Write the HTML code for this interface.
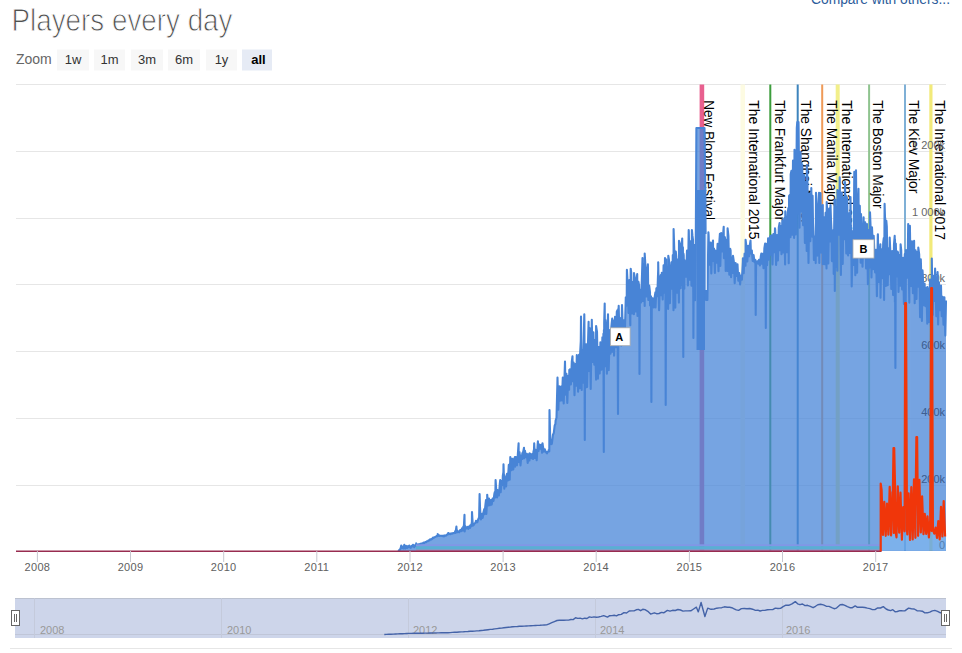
<!DOCTYPE html>
<html><head><meta charset="utf-8"><style>
html,body{margin:0;padding:0;background:#fff;}
body{width:962px;height:653px;overflow:hidden;position:relative;font-family:"Liberation Sans",sans-serif;}
svg{position:absolute;left:0;top:0;}
</style></head><body>
<svg width="962" height="653" viewBox="0 0 962 653" font-family="Liberation Sans, sans-serif">
<text x="11.5" y="30.8" font-size="31" fill="#505050" stroke="#fff" stroke-width="0.9" paint-order="fill" textLength="221" lengthAdjust="spacingAndGlyphs">Players every day</text>
<text x="811" y="4" font-size="14" fill="#2d5c9a" textLength="139" lengthAdjust="spacingAndGlyphs">Compare with others...</text>
<text x="16" y="63.8" font-size="14" fill="#666">Zoom</text>
<g font-size="13" fill="#333" text-anchor="middle">
<rect x="57" y="49.5" width="32" height="21" fill="#f7f7f7"/><text x="73" y="64">1w</text>
<rect x="94" y="49.5" width="31" height="21" fill="#f7f7f7"/><text x="109.5" y="64">1m</text>
<rect x="131" y="49.5" width="32" height="21" fill="#f7f7f7"/><text x="147" y="64">3m</text>
<rect x="168" y="49.5" width="32" height="21" fill="#f7f7f7"/><text x="184" y="64">6m</text>
<rect x="206" y="49.5" width="31" height="21" fill="#f7f7f7"/><text x="221.5" y="64">1y</text>
<rect x="242" y="49.5" width="30" height="21" fill="#e6ebf5"/><text x="258.5" y="64" font-weight="bold" fill="#000">all</text>
</g>
<g stroke="#e6e6e6" stroke-width="1"><line x1="16" y1="84.5" x2="946" y2="84.5"/><line x1="16" y1="151.5" x2="946" y2="151.5"/><line x1="16" y1="218.5" x2="946" y2="218.5"/><line x1="16" y1="284.5" x2="946" y2="284.5"/><line x1="16" y1="351.5" x2="946" y2="351.5"/><line x1="16" y1="418.5" x2="946" y2="418.5"/><line x1="16" y1="485.5" x2="946" y2="485.5"/></g>
<rect x="699.6" y="84.5" width="4.6" height="466.5" fill="#e8608f"/><rect x="740.5" y="84.5" width="4.5" height="466.5" fill="#fdfbe2"/><rect x="769.3" y="84.5" width="2.0" height="466.5" fill="#3c9d3c"/><rect x="796.7" y="84.5" width="2.0" height="466.5" fill="#3d84bd"/><rect x="821.2" y="84.5" width="2.0" height="466.5" fill="#ef9a57"/><rect x="835.7" y="84.5" width="4.0" height="466.5" fill="#f2ef8a"/><rect x="868.1" y="84.5" width="2.0" height="466.5" fill="#8fc48f"/><rect x="904.0" y="84.5" width="2.0" height="466.5" fill="#7fb0d6"/><rect x="929.3" y="84.5" width="3.2" height="466.5" fill="#f2ea7a"/>
<g font-size="14" fill="#000"><text transform="translate(704.4,100.3) rotate(90)" x="0" y="0" textLength="119.7" lengthAdjust="spacingAndGlyphs">New Bloom Festival</text><text transform="translate(748.8,100.3) rotate(90)" x="0" y="0" textLength="139.3" lengthAdjust="spacingAndGlyphs">The International 2015</text><text transform="translate(775.0,100.3) rotate(90)" x="0" y="0" textLength="120.7" lengthAdjust="spacingAndGlyphs">The Frankfurt Major</text><text transform="translate(801.3,100.3) rotate(90)" x="0" y="0" textLength="123.6" lengthAdjust="spacingAndGlyphs">The Shanghai Major</text><text transform="translate(826.5,100.3) rotate(90)" x="0" y="0" textLength="106.0" lengthAdjust="spacingAndGlyphs">The Manila Major</text><text transform="translate(842.0,100.3) rotate(90)" x="0" y="0" textLength="139.4" lengthAdjust="spacingAndGlyphs">The International 2016</text><text transform="translate(873.4,100.3) rotate(90)" x="0" y="0" textLength="108.2" lengthAdjust="spacingAndGlyphs">The Boston Major</text><text transform="translate(909.3,100.3) rotate(90)" x="0" y="0" textLength="93.1" lengthAdjust="spacingAndGlyphs">The Kiev Major</text><text transform="translate(934.5,100.3) rotate(90)" x="0" y="0" textLength="139.6" lengthAdjust="spacingAndGlyphs">The International 2017</text></g>
<g font-size="11" fill="#666"><text x="945" y="548.5" text-anchor="end">0</text><text x="945" y="482.5" text-anchor="end">200k</text><text x="945" y="416.0" text-anchor="end">400k</text><text x="945" y="349.0" text-anchor="end">600k</text><text x="945" y="282.0" text-anchor="end">800k</text><text x="945" y="216.0" text-anchor="end">1 000k</text><text x="945" y="149.0" text-anchor="end">1 200k</text></g>
<path d="M398.1,551.0 L399.0,550.3 L399.9,549.6 L400.8,547.8 L401.2,545.6 L401.7,548.2 L402.6,546.6 L403.5,548.5 L404.3,544.7 L404.4,545.6 L405.3,548.5 L406.2,545.9 L407.1,548.0 L408.0,546.2 L408.9,547.2 L409.3,545.6 L409.8,546.6 L410.7,547.8 L411.6,545.9 L412.5,546.5 L413.0,544.7 L413.4,545.7 L414.3,547.1 L415.2,545.0 L416.1,545.8 L416.2,543.4 L417.0,544.8 L417.9,544.6 L418.8,544.3 L419.7,544.2 L420.6,543.7 L421.5,543.5 L422.4,543.5 L423.3,543.0 L423.7,542.5 L424.2,543.1 L425.1,542.1 L426.0,542.2 L426.9,541.2 L427.8,541.3 L428.7,540.3 L429.6,540.4 L430.0,539.4 L430.5,539.4 L431.4,539.4 L432.3,538.6 L433.0,537.5 L433.2,538.2 L434.1,537.7 L435.0,537.0 L435.9,536.6 L436.8,535.9 L437.7,536.2 L437.7,534.1 L438.6,535.2 L439.5,535.9 L440.4,535.7 L441.3,535.8 L442.2,536.1 L443.1,535.5 L444.0,536.4 L444.7,535.9 L444.9,535.4 L445.8,535.8 L446.7,534.9 L447.6,534.3 L448.2,533.0 L448.5,534.3 L449.4,533.5 L450.3,534.1 L451.2,533.4 L452.1,533.7 L453.0,533.0 L453.9,533.1 L454.8,532.5 L455.2,531.2 L455.7,533.0 L455.8,531.0 L456.4,526.6 L456.6,529.3 L457.2,531.0 L457.5,532.3 L458.4,531.4 L459.3,532.2 L460.2,530.0 L461.1,531.2 L462.0,528.4 L462.9,530.6 L463.3,526.6 L463.8,527.6 L463.9,526.0 L464.5,514.9 L464.7,531.4 L465.2,526.0 L465.6,527.6 L466.5,528.5 L467.4,526.9 L468.3,528.8 L469.2,526.3 L470.1,527.8 L470.3,525.4 L471.0,526.3 L471.3,525.4 L471.9,521.8 L472.0,512.0 L472.8,525.8 L472.8,525.0 L473.7,525.1 L474.6,523.4 L475.5,522.9 L476.0,520.7 L476.4,521.4 L477.3,522.2 L478.2,519.4 L478.8,518.0 L479.1,518.3 L479.6,494.0 L480.0,507.0 L480.4,514.0 L480.9,519.4 L481.8,515.6 L482.0,513.8 L482.7,517.9 L483.6,511.7 L484.3,509.0 L484.5,514.1 L485.4,505.0 L486.0,500.0 L486.3,514.0 L487.2,499.7 L487.2,494.7 L488.1,505.5 L489.0,498.6 L489.9,505.3 L490.8,501.0 L491.0,500.0 L491.7,504.7 L492.6,498.6 L493.5,500.9 L494.4,493.7 L494.8,492.0 L495.3,497.5 L495.6,480.0 L496.2,489.4 L496.4,490.0 L497.1,497.5 L497.5,490.0 L498.0,491.2 L498.9,495.5 L499.8,484.0 L500.2,480.0 L500.7,492.2 L501.6,481.1 L502.5,485.1 L502.8,476.0 L503.4,472.2 L503.5,464.3 L504.3,488.7 L504.3,475.0 L505.2,479.7 L505.7,477.2 L506.1,486.5 L507.0,473.7 L507.9,480.4 L508.8,464.9 L509.7,479.7 L510.3,457.0 L510.6,458.2 L511.5,470.2 L512.4,458.9 L513.3,469.5 L514.2,459.3 L514.9,457.0 L515.1,466.6 L516.0,457.0 L516.9,465.3 L517.8,456.2 L517.8,455.0 L518.6,443.2 L518.7,462.0 L519.5,452.0 L519.6,452.9 L520.5,465.4 L521.4,455.3 L522.3,458.9 L522.3,453.3 L523.2,451.9 L524.0,447.8 L524.1,458.3 L525.0,450.8 L525.9,457.3 L526.8,453.8 L527.7,463.0 L528.6,454.2 L529.5,460.4 L529.6,453.3 L530.4,454.0 L531.3,458.3 L532.2,454.0 L533.1,459.0 L533.4,452.0 L534.0,449.6 L534.2,443.2 L534.9,458.0 L535.0,452.0 L535.8,449.9 L536.7,460.3 L537.6,445.3 L537.9,441.4 L538.5,451.0 L539.4,444.6 L540.3,448.8 L541.2,444.8 L542.1,452.8 L542.5,443.2 L543.0,446.8 L543.9,451.6 L544.8,449.3 L545.7,451.6 L546.6,453.0 L547.1,453.3 L547.5,452.0 L548.4,451.6 L548.7,450.0 L549.3,451.3 L549.5,410.0 L550.2,438.2 L550.3,440.0 L551.1,444.1 L551.7,444.0 L552.0,442.7 L552.9,435.0 L553.8,432.9 L554.7,425.4 L555.4,424.0 L555.6,420.6 L556.5,417.8 L557.4,382.7 L557.5,377.6 L558.3,409.6 L559.2,386.3 L560.1,400.7 L560.7,387.3 L561.0,386.5 L561.9,400.5 L562.8,377.6 L563.7,403.5 L564.6,374.4 L565.0,361.5 L565.5,394.6 L566.4,373.7 L567.3,402.9 L568.2,375.9 L569.1,389.8 L569.3,370.0 L570.0,369.3 L570.9,384.4 L571.8,361.7 L572.5,356.2 L572.7,381.2 L573.6,362.6 L574.5,395.1 L575.4,364.1 L576.3,385.7 L576.8,355.0 L577.2,361.6 L578.1,391.7 L579.0,354.7 L579.9,388.1 L580.2,352.0 L580.8,341.1 L581.0,316.5 L581.7,389.9 L581.8,350.0 L582.6,358.4 L583.5,382.7 L583.5,350.0 L584.3,314.3 L584.4,322.0 L584.4,320.0 L584.8,440.0 L585.1,344.0 L585.2,346.0 L585.3,388.2 L586.2,348.8 L586.5,344.4 L587.1,386.9 L588.0,343.2 L588.6,321.8 L588.9,371.0 L589.8,328.3 L590.7,388.9 L591.6,332.2 L591.8,319.7 L592.5,362.0 L593.4,332.3 L594.3,364.6 L595.0,340.0 L595.2,348.0 L596.1,379.6 L596.1,326.0 L597.0,332.0 L597.9,378.6 L598.8,347.1 L599.7,373.5 L600.4,342.2 L600.6,345.3 L601.5,369.7 L602.4,337.3 L603.3,355.2 L603.4,333.7 L603.8,452.0 L603.9,330.0 L604.2,333.7 L604.2,322.1 L604.7,303.6 L605.1,366.3 L605.5,320.0 L606.0,326.5 L606.9,373.7 L607.8,321.5 L608.0,314.3 L608.7,370.1 L609.6,336.1 L610.0,330.0 L610.5,353.8 L611.4,326.3 L612.2,318.6 L612.3,351.8 L613.2,320.3 L614.1,355.6 L615.0,316.9 L615.9,347.1 L616.8,311.8 L617.6,310.0 L617.7,355.0 L618.0,414.0 L618.4,308.4 L618.6,310.7 L618.7,305.8 L619.5,341.4 L620.0,318.0 L620.4,320.7 L621.3,345.6 L622.0,305.0 L622.2,310.8 L623.1,341.0 L624.0,321.3 L624.3,320.0 L624.9,330.9 L625.8,297.3 L626.7,305.6 L626.9,269.7 L627.6,283.0 L628.5,313.0 L628.6,285.8 L629.4,280.1 L630.3,325.3 L630.7,268.7 L631.2,272.5 L632.1,313.5 L633.0,281.7 L633.9,314.3 L634.0,273.0 L634.8,277.9 L635.7,311.5 L636.6,280.7 L637.2,274.0 L637.5,316.0 L638.4,281.7 L639.1,285.5 L639.3,310.2 L639.5,374.0 L639.9,289.5 L640.2,291.3 L640.4,290.0 L641.1,302.4 L642.0,275.2 L642.5,258.0 L642.9,300.9 L643.8,263.7 L644.7,305.9 L644.7,253.6 L645.6,268.8 L646.5,296.5 L647.4,270.2 L647.9,264.4 L648.3,300.0 L649.2,285.6 L650.0,292.3 L650.1,305.5 L651.0,296.4 L651.0,296.2 L651.4,402.0 L651.8,297.8 L651.9,305.0 L652.8,299.6 L653.3,298.7 L653.7,307.4 L654.6,297.7 L655.4,292.3 L655.5,307.5 L656.4,288.4 L657.3,296.3 L658.2,269.3 L658.2,262.2 L659.1,310.2 L660.0,279.5 L660.8,275.0 L660.9,295.2 L661.8,272.9 L662.7,299.4 L663.6,265.3 L664.5,292.7 L665.0,258.0 L665.3,259.8 L665.4,259.4 L665.7,405.0 L666.1,259.3 L666.3,303.3 L667.2,267.2 L668.1,308.9 L668.3,255.8 L669.0,259.9 L669.9,303.3 L670.8,269.0 L671.5,262.2 L671.7,288.8 L672.6,267.7 L672.8,255.0 L673.5,310.3 L673.6,229.0 L674.4,253.8 L674.4,250.0 L675.3,307.6 L675.8,251.5 L676.2,256.3 L677.1,292.8 L678.0,259.4 L678.9,302.6 L679.0,240.8 L679.8,243.5 L680.7,288.3 L681.6,247.8 L682.2,238.6 L682.5,285.1 L682.9,247.4 L683.3,357.0 L683.4,253.5 L683.7,255.2 L684.3,288.7 L684.4,260.0 L685.2,263.4 L686.1,276.8 L687.0,250.6 L687.9,285.4 L688.7,230.0 L688.8,231.1 L689.7,279.7 L690.6,241.3 L691.5,285.8 L691.9,230.0 L692.4,235.4 L693.0,239.9 L693.3,301.6 L693.4,338.0 L693.8,245.6 L694.0,245.0 L694.2,255.4 L695.1,300.3 L695.8,240.0 L696.4,128.0 L704.5,128.0 L705.4,200.0 L706.0,300.0 L707.4,300.0 L708.4,232.2 L708.6,235.1 L709.5,264.6 L710.4,242.6 L710.7,242.9 L711.3,273.5 L712.2,244.4 L713.0,240.6 L713.1,260.9 L714.0,248.6 L714.9,273.0 L715.3,250.5 L715.8,254.1 L716.7,262.8 L717.6,243.9 L718.5,271.1 L719.4,241.1 L719.9,233.7 L720.3,265.9 L721.2,233.0 L722.1,251.4 L723.0,235.5 L723.7,226.8 L723.9,258.1 L724.8,237.1 L725.3,239.8 L725.7,270.9 L726.6,239.9 L727.5,271.0 L727.6,228.3 L728.4,235.8 L729.3,274.7 L730.2,248.8 L730.6,250.5 L731.1,277.2 L732.0,257.2 L732.9,273.0 L733.0,255.9 L733.8,261.4 L734.7,283.1 L735.6,263.0 L736.5,276.0 L737.4,267.7 L737.5,264.3 L738.3,280.8 L739.2,273.1 L740.1,284.5 L740.6,278.0 L741.0,275.5 L741.9,279.6 L742.8,261.8 L742.9,258.2 L743.7,273.1 L744.6,253.5 L745.5,265.8 L745.6,239.8 L746.4,246.5 L747.3,261.5 L748.2,248.7 L748.2,245.9 L749.1,256.3 L750.0,243.9 L750.5,240.6 L750.9,253.4 L751.8,250.4 L752.7,261.0 L753.6,256.3 L753.6,255.1 L754.5,262.1 L755.3,259.9 L755.4,260.2 L755.7,315.0 L756.1,261.2 L756.3,262.3 L757.2,262.5 L757.4,261.3 L758.1,263.7 L759.0,259.8 L759.9,265.4 L760.8,256.5 L761.3,253.6 L761.7,263.7 L762.6,253.7 L763.5,268.3 L764.4,248.1 L765.1,243.6 L765.3,267.4 L765.4,245.1 L765.8,328.0 L766.2,247.0 L766.2,243.7 L767.1,265.1 L768.0,242.2 L768.1,238.3 L768.9,259.6 L769.8,237.8 L770.4,236.0 L770.7,254.8 L771.6,235.4 L772.5,264.5 L773.4,234.0 L774.3,252.3 L775.0,228.3 L775.2,229.6 L776.1,264.9 L777.0,235.1 L777.9,260.5 L778.8,227.5 L779.6,223.0 L779.7,250.2 L780.6,225.9 L781.5,254.1 L782.3,220.6 L782.4,222.7 L783.3,252.4 L784.2,218.6 L785.1,264.4 L785.3,211.4 L786.0,223.5 L786.9,252.2 L787.8,212.5 L788.4,208.0 L788.7,263.2 L789.1,195.8 L789.6,195.2 L790.5,237.3 L790.7,174.3 L791.4,170.9 L792.3,234.7 L793.0,160.5 L793.2,171.4 L794.1,238.0 L794.5,149.8 L795.0,151.2 L795.9,234.4 L796.8,127.9 L797.3,122.0 L797.7,213.8 L798.5,122.0 L798.6,127.2 L799.5,227.8 L800.4,151.9 L800.6,152.9 L801.3,211.6 L802.2,164.5 L803.1,225.2 L804.0,174.8 L804.9,242.9 L805.8,181.9 L806.7,251.0 L806.8,165.1 L807.5,183.5 L807.6,198.1 L808.5,262.9 L809.4,193.9 L810.3,241.3 L811.2,207.0 L811.3,188.1 L812.1,236.6 L812.6,195.8 L813.0,223.3 L813.5,236.0 L813.9,259.9 L814.8,237.1 L815.5,236.0 L815.7,263.1 L816.0,192.7 L816.6,209.1 L817.5,255.6 L818.4,206.4 L819.0,192.7 L819.3,263.0 L819.8,209.5 L820.2,203.1 L820.5,193.0 L821.1,252.6 L822.0,209.5 L822.8,205.0 L822.9,264.3 L823.8,217.0 L824.7,264.3 L825.6,212.7 L826.5,268.5 L826.7,202.0 L827.4,214.3 L828.3,263.4 L829.2,208.5 L830.1,241.5 L830.5,205.0 L831.0,220.1 L831.5,230.0 L831.9,261.1 L832.8,231.9 L833.5,230.0 L833.7,274.0 L834.4,205.0 L834.5,200.0 L834.6,210.9 L834.8,291.0 L835.2,199.6 L835.5,267.1 L836.4,207.2 L837.3,270.7 L837.4,190.0 L838.2,197.7 L839.1,234.6 L839.7,177.4 L840.0,198.6 L840.9,275.0 L841.8,192.6 L842.7,263.9 L843.6,197.9 L844.5,239.2 L845.0,182.0 L845.4,203.8 L846.3,253.4 L846.7,197.0 L847.2,199.4 L848.1,255.4 L849.0,213.2 L849.9,253.0 L850.5,197.0 L850.8,225.4 L851.2,231.0 L851.7,286.5 L852.6,238.2 L853.0,231.0 L853.5,265.0 L854.3,171.9 L854.4,185.9 L855.3,275.3 L856.0,170.2 L856.2,194.0 L857.1,272.7 L858.0,201.8 L858.5,188.7 L858.9,247.6 L859.8,205.7 L860.7,262.8 L861.0,214.0 L861.6,228.9 L862.5,266.8 L863.4,227.8 L863.6,217.3 L864.3,257.1 L865.2,222.3 L866.1,268.4 L867.0,235.7 L867.0,224.0 L867.9,284.3 L868.8,230.0 L869.7,267.6 L870.0,212.3 L870.6,227.1 L871.5,277.4 L872.0,227.4 L872.4,237.4 L873.3,269.1 L873.7,235.9 L874.2,248.9 L875.1,272.5 L876.0,249.7 L876.9,296.2 L877.8,235.3 L877.9,234.2 L878.7,282.1 L879.6,252.6 L880.4,244.3 L880.5,297.8 L881.4,249.0 L882.3,278.2 L883.2,242.8 L883.8,238.0 L884.1,300.0 L884.6,203.9 L885.0,217.1 L885.4,220.0 L885.9,285.9 L886.3,220.7 L886.8,226.6 L887.7,285.3 L888.6,248.3 L889.5,274.2 L889.7,237.5 L890.4,253.6 L891.3,289.0 L892.2,262.2 L892.2,251.0 L893.1,295.1 L894.0,244.3 L894.7,235.9 L894.9,302.0 L895.0,239.4 L895.4,368.0 L895.8,249.4 L895.8,243.5 L896.7,276.5 L897.6,251.5 L898.0,252.7 L898.5,291.9 L899.4,255.0 L900.3,285.7 L900.6,244.3 L901.2,250.2 L902.1,289.4 L903.0,261.6 L903.1,257.7 L903.9,303.9 L904.8,254.0 L905.7,302.2 L906.0,250.0 L906.6,256.7 L907.5,277.6 L908.2,224.0 L908.4,244.1 L909.3,302.6 L909.9,225.8 L910.2,246.0 L911.1,286.1 L912.0,241.3 L912.9,293.3 L913.8,258.5 L914.1,240.9 L914.7,303.3 L915.6,250.4 L916.5,299.0 L917.4,251.7 L918.3,286.7 L918.3,247.6 L919.2,254.3 L920.1,317.2 L920.8,259.4 L921.0,265.5 L921.9,321.0 L922.5,270.3 L922.8,275.0 L923.7,305.3 L924.6,283.5 L925.5,306.2 L926.4,287.7 L927.3,323.6 L927.5,287.1 L928.2,291.9 L929.1,321.9 L930.0,279.5 L930.9,326.2 L931.8,274.6 L931.8,258.5 L932.7,315.0 L933.6,275.8 L934.5,301.0 L935.1,268.6 L935.4,280.4 L936.3,316.3 L937.2,283.1 L937.6,272.0 L938.1,324.5 L939.0,282.2 L939.9,310.3 L940.8,296.6 L941.0,285.5 L941.7,316.2 L942.6,296.9 L943.5,324.6 L944.4,300.9 L944.4,297.2 L945.3,335.6 L946.0,300.6 L946,551 L398,551 Z" fill="rgba(72,134,216,0.75)"/>
<rect x="696.5" y="190" width="8.5" height="160" fill="#4884d6"/>
<defs><clipPath id="ac"><path d="M398.1,551.0 L399.0,550.3 L399.9,549.6 L400.8,547.8 L401.2,545.6 L401.7,548.2 L402.6,546.6 L403.5,548.5 L404.3,544.7 L404.4,545.6 L405.3,548.5 L406.2,545.9 L407.1,548.0 L408.0,546.2 L408.9,547.2 L409.3,545.6 L409.8,546.6 L410.7,547.8 L411.6,545.9 L412.5,546.5 L413.0,544.7 L413.4,545.7 L414.3,547.1 L415.2,545.0 L416.1,545.8 L416.2,543.4 L417.0,544.8 L417.9,544.6 L418.8,544.3 L419.7,544.2 L420.6,543.7 L421.5,543.5 L422.4,543.5 L423.3,543.0 L423.7,542.5 L424.2,543.1 L425.1,542.1 L426.0,542.2 L426.9,541.2 L427.8,541.3 L428.7,540.3 L429.6,540.4 L430.0,539.4 L430.5,539.4 L431.4,539.4 L432.3,538.6 L433.0,537.5 L433.2,538.2 L434.1,537.7 L435.0,537.0 L435.9,536.6 L436.8,535.9 L437.7,536.2 L437.7,534.1 L438.6,535.2 L439.5,535.9 L440.4,535.7 L441.3,535.8 L442.2,536.1 L443.1,535.5 L444.0,536.4 L444.7,535.9 L444.9,535.4 L445.8,535.8 L446.7,534.9 L447.6,534.3 L448.2,533.0 L448.5,534.3 L449.4,533.5 L450.3,534.1 L451.2,533.4 L452.1,533.7 L453.0,533.0 L453.9,533.1 L454.8,532.5 L455.2,531.2 L455.7,533.0 L455.8,531.0 L456.4,526.6 L456.6,529.3 L457.2,531.0 L457.5,532.3 L458.4,531.4 L459.3,532.2 L460.2,530.0 L461.1,531.2 L462.0,528.4 L462.9,530.6 L463.3,526.6 L463.8,527.6 L463.9,526.0 L464.5,514.9 L464.7,531.4 L465.2,526.0 L465.6,527.6 L466.5,528.5 L467.4,526.9 L468.3,528.8 L469.2,526.3 L470.1,527.8 L470.3,525.4 L471.0,526.3 L471.3,525.4 L471.9,521.8 L472.0,512.0 L472.8,525.8 L472.8,525.0 L473.7,525.1 L474.6,523.4 L475.5,522.9 L476.0,520.7 L476.4,521.4 L477.3,522.2 L478.2,519.4 L478.8,518.0 L479.1,518.3 L479.6,494.0 L480.0,507.0 L480.4,514.0 L480.9,519.4 L481.8,515.6 L482.0,513.8 L482.7,517.9 L483.6,511.7 L484.3,509.0 L484.5,514.1 L485.4,505.0 L486.0,500.0 L486.3,514.0 L487.2,499.7 L487.2,494.7 L488.1,505.5 L489.0,498.6 L489.9,505.3 L490.8,501.0 L491.0,500.0 L491.7,504.7 L492.6,498.6 L493.5,500.9 L494.4,493.7 L494.8,492.0 L495.3,497.5 L495.6,480.0 L496.2,489.4 L496.4,490.0 L497.1,497.5 L497.5,490.0 L498.0,491.2 L498.9,495.5 L499.8,484.0 L500.2,480.0 L500.7,492.2 L501.6,481.1 L502.5,485.1 L502.8,476.0 L503.4,472.2 L503.5,464.3 L504.3,488.7 L504.3,475.0 L505.2,479.7 L505.7,477.2 L506.1,486.5 L507.0,473.7 L507.9,480.4 L508.8,464.9 L509.7,479.7 L510.3,457.0 L510.6,458.2 L511.5,470.2 L512.4,458.9 L513.3,469.5 L514.2,459.3 L514.9,457.0 L515.1,466.6 L516.0,457.0 L516.9,465.3 L517.8,456.2 L517.8,455.0 L518.6,443.2 L518.7,462.0 L519.5,452.0 L519.6,452.9 L520.5,465.4 L521.4,455.3 L522.3,458.9 L522.3,453.3 L523.2,451.9 L524.0,447.8 L524.1,458.3 L525.0,450.8 L525.9,457.3 L526.8,453.8 L527.7,463.0 L528.6,454.2 L529.5,460.4 L529.6,453.3 L530.4,454.0 L531.3,458.3 L532.2,454.0 L533.1,459.0 L533.4,452.0 L534.0,449.6 L534.2,443.2 L534.9,458.0 L535.0,452.0 L535.8,449.9 L536.7,460.3 L537.6,445.3 L537.9,441.4 L538.5,451.0 L539.4,444.6 L540.3,448.8 L541.2,444.8 L542.1,452.8 L542.5,443.2 L543.0,446.8 L543.9,451.6 L544.8,449.3 L545.7,451.6 L546.6,453.0 L547.1,453.3 L547.5,452.0 L548.4,451.6 L548.7,450.0 L549.3,451.3 L549.5,410.0 L550.2,438.2 L550.3,440.0 L551.1,444.1 L551.7,444.0 L552.0,442.7 L552.9,435.0 L553.8,432.9 L554.7,425.4 L555.4,424.0 L555.6,420.6 L556.5,417.8 L557.4,382.7 L557.5,377.6 L558.3,409.6 L559.2,386.3 L560.1,400.7 L560.7,387.3 L561.0,386.5 L561.9,400.5 L562.8,377.6 L563.7,403.5 L564.6,374.4 L565.0,361.5 L565.5,394.6 L566.4,373.7 L567.3,402.9 L568.2,375.9 L569.1,389.8 L569.3,370.0 L570.0,369.3 L570.9,384.4 L571.8,361.7 L572.5,356.2 L572.7,381.2 L573.6,362.6 L574.5,395.1 L575.4,364.1 L576.3,385.7 L576.8,355.0 L577.2,361.6 L578.1,391.7 L579.0,354.7 L579.9,388.1 L580.2,352.0 L580.8,341.1 L581.0,316.5 L581.7,389.9 L581.8,350.0 L582.6,358.4 L583.5,382.7 L583.5,350.0 L584.3,314.3 L584.4,322.0 L584.4,320.0 L584.8,440.0 L585.1,344.0 L585.2,346.0 L585.3,388.2 L586.2,348.8 L586.5,344.4 L587.1,386.9 L588.0,343.2 L588.6,321.8 L588.9,371.0 L589.8,328.3 L590.7,388.9 L591.6,332.2 L591.8,319.7 L592.5,362.0 L593.4,332.3 L594.3,364.6 L595.0,340.0 L595.2,348.0 L596.1,379.6 L596.1,326.0 L597.0,332.0 L597.9,378.6 L598.8,347.1 L599.7,373.5 L600.4,342.2 L600.6,345.3 L601.5,369.7 L602.4,337.3 L603.3,355.2 L603.4,333.7 L603.8,452.0 L603.9,330.0 L604.2,333.7 L604.2,322.1 L604.7,303.6 L605.1,366.3 L605.5,320.0 L606.0,326.5 L606.9,373.7 L607.8,321.5 L608.0,314.3 L608.7,370.1 L609.6,336.1 L610.0,330.0 L610.5,353.8 L611.4,326.3 L612.2,318.6 L612.3,351.8 L613.2,320.3 L614.1,355.6 L615.0,316.9 L615.9,347.1 L616.8,311.8 L617.6,310.0 L617.7,355.0 L618.0,414.0 L618.4,308.4 L618.6,310.7 L618.7,305.8 L619.5,341.4 L620.0,318.0 L620.4,320.7 L621.3,345.6 L622.0,305.0 L622.2,310.8 L623.1,341.0 L624.0,321.3 L624.3,320.0 L624.9,330.9 L625.8,297.3 L626.7,305.6 L626.9,269.7 L627.6,283.0 L628.5,313.0 L628.6,285.8 L629.4,280.1 L630.3,325.3 L630.7,268.7 L631.2,272.5 L632.1,313.5 L633.0,281.7 L633.9,314.3 L634.0,273.0 L634.8,277.9 L635.7,311.5 L636.6,280.7 L637.2,274.0 L637.5,316.0 L638.4,281.7 L639.1,285.5 L639.3,310.2 L639.5,374.0 L639.9,289.5 L640.2,291.3 L640.4,290.0 L641.1,302.4 L642.0,275.2 L642.5,258.0 L642.9,300.9 L643.8,263.7 L644.7,305.9 L644.7,253.6 L645.6,268.8 L646.5,296.5 L647.4,270.2 L647.9,264.4 L648.3,300.0 L649.2,285.6 L650.0,292.3 L650.1,305.5 L651.0,296.4 L651.0,296.2 L651.4,402.0 L651.8,297.8 L651.9,305.0 L652.8,299.6 L653.3,298.7 L653.7,307.4 L654.6,297.7 L655.4,292.3 L655.5,307.5 L656.4,288.4 L657.3,296.3 L658.2,269.3 L658.2,262.2 L659.1,310.2 L660.0,279.5 L660.8,275.0 L660.9,295.2 L661.8,272.9 L662.7,299.4 L663.6,265.3 L664.5,292.7 L665.0,258.0 L665.3,259.8 L665.4,259.4 L665.7,405.0 L666.1,259.3 L666.3,303.3 L667.2,267.2 L668.1,308.9 L668.3,255.8 L669.0,259.9 L669.9,303.3 L670.8,269.0 L671.5,262.2 L671.7,288.8 L672.6,267.7 L672.8,255.0 L673.5,310.3 L673.6,229.0 L674.4,253.8 L674.4,250.0 L675.3,307.6 L675.8,251.5 L676.2,256.3 L677.1,292.8 L678.0,259.4 L678.9,302.6 L679.0,240.8 L679.8,243.5 L680.7,288.3 L681.6,247.8 L682.2,238.6 L682.5,285.1 L682.9,247.4 L683.3,357.0 L683.4,253.5 L683.7,255.2 L684.3,288.7 L684.4,260.0 L685.2,263.4 L686.1,276.8 L687.0,250.6 L687.9,285.4 L688.7,230.0 L688.8,231.1 L689.7,279.7 L690.6,241.3 L691.5,285.8 L691.9,230.0 L692.4,235.4 L693.0,239.9 L693.3,301.6 L693.4,338.0 L693.8,245.6 L694.0,245.0 L694.2,255.4 L695.1,300.3 L695.8,240.0 L696.4,128.0 L704.5,128.0 L705.4,200.0 L706.0,300.0 L707.4,300.0 L708.4,232.2 L708.6,235.1 L709.5,264.6 L710.4,242.6 L710.7,242.9 L711.3,273.5 L712.2,244.4 L713.0,240.6 L713.1,260.9 L714.0,248.6 L714.9,273.0 L715.3,250.5 L715.8,254.1 L716.7,262.8 L717.6,243.9 L718.5,271.1 L719.4,241.1 L719.9,233.7 L720.3,265.9 L721.2,233.0 L722.1,251.4 L723.0,235.5 L723.7,226.8 L723.9,258.1 L724.8,237.1 L725.3,239.8 L725.7,270.9 L726.6,239.9 L727.5,271.0 L727.6,228.3 L728.4,235.8 L729.3,274.7 L730.2,248.8 L730.6,250.5 L731.1,277.2 L732.0,257.2 L732.9,273.0 L733.0,255.9 L733.8,261.4 L734.7,283.1 L735.6,263.0 L736.5,276.0 L737.4,267.7 L737.5,264.3 L738.3,280.8 L739.2,273.1 L740.1,284.5 L740.6,278.0 L741.0,275.5 L741.9,279.6 L742.8,261.8 L742.9,258.2 L743.7,273.1 L744.6,253.5 L745.5,265.8 L745.6,239.8 L746.4,246.5 L747.3,261.5 L748.2,248.7 L748.2,245.9 L749.1,256.3 L750.0,243.9 L750.5,240.6 L750.9,253.4 L751.8,250.4 L752.7,261.0 L753.6,256.3 L753.6,255.1 L754.5,262.1 L755.3,259.9 L755.4,260.2 L755.7,315.0 L756.1,261.2 L756.3,262.3 L757.2,262.5 L757.4,261.3 L758.1,263.7 L759.0,259.8 L759.9,265.4 L760.8,256.5 L761.3,253.6 L761.7,263.7 L762.6,253.7 L763.5,268.3 L764.4,248.1 L765.1,243.6 L765.3,267.4 L765.4,245.1 L765.8,328.0 L766.2,247.0 L766.2,243.7 L767.1,265.1 L768.0,242.2 L768.1,238.3 L768.9,259.6 L769.8,237.8 L770.4,236.0 L770.7,254.8 L771.6,235.4 L772.5,264.5 L773.4,234.0 L774.3,252.3 L775.0,228.3 L775.2,229.6 L776.1,264.9 L777.0,235.1 L777.9,260.5 L778.8,227.5 L779.6,223.0 L779.7,250.2 L780.6,225.9 L781.5,254.1 L782.3,220.6 L782.4,222.7 L783.3,252.4 L784.2,218.6 L785.1,264.4 L785.3,211.4 L786.0,223.5 L786.9,252.2 L787.8,212.5 L788.4,208.0 L788.7,263.2 L789.1,195.8 L789.6,195.2 L790.5,237.3 L790.7,174.3 L791.4,170.9 L792.3,234.7 L793.0,160.5 L793.2,171.4 L794.1,238.0 L794.5,149.8 L795.0,151.2 L795.9,234.4 L796.8,127.9 L797.3,122.0 L797.7,213.8 L798.5,122.0 L798.6,127.2 L799.5,227.8 L800.4,151.9 L800.6,152.9 L801.3,211.6 L802.2,164.5 L803.1,225.2 L804.0,174.8 L804.9,242.9 L805.8,181.9 L806.7,251.0 L806.8,165.1 L807.5,183.5 L807.6,198.1 L808.5,262.9 L809.4,193.9 L810.3,241.3 L811.2,207.0 L811.3,188.1 L812.1,236.6 L812.6,195.8 L813.0,223.3 L813.5,236.0 L813.9,259.9 L814.8,237.1 L815.5,236.0 L815.7,263.1 L816.0,192.7 L816.6,209.1 L817.5,255.6 L818.4,206.4 L819.0,192.7 L819.3,263.0 L819.8,209.5 L820.2,203.1 L820.5,193.0 L821.1,252.6 L822.0,209.5 L822.8,205.0 L822.9,264.3 L823.8,217.0 L824.7,264.3 L825.6,212.7 L826.5,268.5 L826.7,202.0 L827.4,214.3 L828.3,263.4 L829.2,208.5 L830.1,241.5 L830.5,205.0 L831.0,220.1 L831.5,230.0 L831.9,261.1 L832.8,231.9 L833.5,230.0 L833.7,274.0 L834.4,205.0 L834.5,200.0 L834.6,210.9 L834.8,291.0 L835.2,199.6 L835.5,267.1 L836.4,207.2 L837.3,270.7 L837.4,190.0 L838.2,197.7 L839.1,234.6 L839.7,177.4 L840.0,198.6 L840.9,275.0 L841.8,192.6 L842.7,263.9 L843.6,197.9 L844.5,239.2 L845.0,182.0 L845.4,203.8 L846.3,253.4 L846.7,197.0 L847.2,199.4 L848.1,255.4 L849.0,213.2 L849.9,253.0 L850.5,197.0 L850.8,225.4 L851.2,231.0 L851.7,286.5 L852.6,238.2 L853.0,231.0 L853.5,265.0 L854.3,171.9 L854.4,185.9 L855.3,275.3 L856.0,170.2 L856.2,194.0 L857.1,272.7 L858.0,201.8 L858.5,188.7 L858.9,247.6 L859.8,205.7 L860.7,262.8 L861.0,214.0 L861.6,228.9 L862.5,266.8 L863.4,227.8 L863.6,217.3 L864.3,257.1 L865.2,222.3 L866.1,268.4 L867.0,235.7 L867.0,224.0 L867.9,284.3 L868.8,230.0 L869.7,267.6 L870.0,212.3 L870.6,227.1 L871.5,277.4 L872.0,227.4 L872.4,237.4 L873.3,269.1 L873.7,235.9 L874.2,248.9 L875.1,272.5 L876.0,249.7 L876.9,296.2 L877.8,235.3 L877.9,234.2 L878.7,282.1 L879.6,252.6 L880.4,244.3 L880.5,297.8 L881.4,249.0 L882.3,278.2 L883.2,242.8 L883.8,238.0 L884.1,300.0 L884.6,203.9 L885.0,217.1 L885.4,220.0 L885.9,285.9 L886.3,220.7 L886.8,226.6 L887.7,285.3 L888.6,248.3 L889.5,274.2 L889.7,237.5 L890.4,253.6 L891.3,289.0 L892.2,262.2 L892.2,251.0 L893.1,295.1 L894.0,244.3 L894.7,235.9 L894.9,302.0 L895.0,239.4 L895.4,368.0 L895.8,249.4 L895.8,243.5 L896.7,276.5 L897.6,251.5 L898.0,252.7 L898.5,291.9 L899.4,255.0 L900.3,285.7 L900.6,244.3 L901.2,250.2 L902.1,289.4 L903.0,261.6 L903.1,257.7 L903.9,303.9 L904.8,254.0 L905.7,302.2 L906.0,250.0 L906.6,256.7 L907.5,277.6 L908.2,224.0 L908.4,244.1 L909.3,302.6 L909.9,225.8 L910.2,246.0 L911.1,286.1 L912.0,241.3 L912.9,293.3 L913.8,258.5 L914.1,240.9 L914.7,303.3 L915.6,250.4 L916.5,299.0 L917.4,251.7 L918.3,286.7 L918.3,247.6 L919.2,254.3 L920.1,317.2 L920.8,259.4 L921.0,265.5 L921.9,321.0 L922.5,270.3 L922.8,275.0 L923.7,305.3 L924.6,283.5 L925.5,306.2 L926.4,287.7 L927.3,323.6 L927.5,287.1 L928.2,291.9 L929.1,321.9 L930.0,279.5 L930.9,326.2 L931.8,274.6 L931.8,258.5 L932.7,315.0 L933.6,275.8 L934.5,301.0 L935.1,268.6 L935.4,280.4 L936.3,316.3 L937.2,283.1 L937.6,272.0 L938.1,324.5 L939.0,282.2 L939.9,310.3 L940.8,296.6 L941.0,285.5 L941.7,316.2 L942.6,296.9 L943.5,324.6 L944.4,300.9 L944.4,297.2 L945.3,335.6 L946.0,300.6 L946,551 L398,551 Z"/></clipPath></defs>
<g font-size="11" fill="#283250" opacity="0.4" clip-path="url(#ac)"><text x="945" y="548.5" text-anchor="end">0</text><text x="945" y="482.5" text-anchor="end">200k</text><text x="945" y="416.0" text-anchor="end">400k</text><text x="945" y="349.0" text-anchor="end">600k</text><text x="945" y="282.0" text-anchor="end">800k</text><text x="945" y="216.0" text-anchor="end">1 000k</text><text x="945" y="149.0" text-anchor="end">1 200k</text></g>
<path d="M398.1,551.0 L399.0,550.3 L399.9,549.6 L400.8,547.8 L401.2,545.6 L401.7,548.2 L402.6,546.6 L403.5,548.5 L404.3,544.7 L404.4,545.6 L405.3,548.5 L406.2,545.9 L407.1,548.0 L408.0,546.2 L408.9,547.2 L409.3,545.6 L409.8,546.6 L410.7,547.8 L411.6,545.9 L412.5,546.5 L413.0,544.7 L413.4,545.7 L414.3,547.1 L415.2,545.0 L416.1,545.8 L416.2,543.4 L417.0,544.8 L417.9,544.6 L418.8,544.3 L419.7,544.2 L420.6,543.7 L421.5,543.5 L422.4,543.5 L423.3,543.0 L423.7,542.5 L424.2,543.1 L425.1,542.1 L426.0,542.2 L426.9,541.2 L427.8,541.3 L428.7,540.3 L429.6,540.4 L430.0,539.4 L430.5,539.4 L431.4,539.4 L432.3,538.6 L433.0,537.5 L433.2,538.2 L434.1,537.7 L435.0,537.0 L435.9,536.6 L436.8,535.9 L437.7,536.2 L437.7,534.1 L438.6,535.2 L439.5,535.9 L440.4,535.7 L441.3,535.8 L442.2,536.1 L443.1,535.5 L444.0,536.4 L444.7,535.9 L444.9,535.4 L445.8,535.8 L446.7,534.9 L447.6,534.3 L448.2,533.0 L448.5,534.3 L449.4,533.5 L450.3,534.1 L451.2,533.4 L452.1,533.7 L453.0,533.0 L453.9,533.1 L454.8,532.5 L455.2,531.2 L455.7,533.0 L455.8,531.0 L456.4,526.6 L456.6,529.3 L457.2,531.0 L457.5,532.3 L458.4,531.4 L459.3,532.2 L460.2,530.0 L461.1,531.2 L462.0,528.4 L462.9,530.6 L463.3,526.6 L463.8,527.6 L463.9,526.0 L464.5,514.9 L464.7,531.4 L465.2,526.0 L465.6,527.6 L466.5,528.5 L467.4,526.9 L468.3,528.8 L469.2,526.3 L470.1,527.8 L470.3,525.4 L471.0,526.3 L471.3,525.4 L471.9,521.8 L472.0,512.0 L472.8,525.8 L472.8,525.0 L473.7,525.1 L474.6,523.4 L475.5,522.9 L476.0,520.7 L476.4,521.4 L477.3,522.2 L478.2,519.4 L478.8,518.0 L479.1,518.3 L479.6,494.0 L480.0,507.0 L480.4,514.0 L480.9,519.4 L481.8,515.6 L482.0,513.8 L482.7,517.9 L483.6,511.7 L484.3,509.0 L484.5,514.1 L485.4,505.0 L486.0,500.0 L486.3,514.0 L487.2,499.7 L487.2,494.7 L488.1,505.5 L489.0,498.6 L489.9,505.3 L490.8,501.0 L491.0,500.0 L491.7,504.7 L492.6,498.6 L493.5,500.9 L494.4,493.7 L494.8,492.0 L495.3,497.5 L495.6,480.0 L496.2,489.4 L496.4,490.0 L497.1,497.5 L497.5,490.0 L498.0,491.2 L498.9,495.5 L499.8,484.0 L500.2,480.0 L500.7,492.2 L501.6,481.1 L502.5,485.1 L502.8,476.0 L503.4,472.2 L503.5,464.3 L504.3,488.7 L504.3,475.0 L505.2,479.7 L505.7,477.2 L506.1,486.5 L507.0,473.7 L507.9,480.4 L508.8,464.9 L509.7,479.7 L510.3,457.0 L510.6,458.2 L511.5,470.2 L512.4,458.9 L513.3,469.5 L514.2,459.3 L514.9,457.0 L515.1,466.6 L516.0,457.0 L516.9,465.3 L517.8,456.2 L517.8,455.0 L518.6,443.2 L518.7,462.0 L519.5,452.0 L519.6,452.9 L520.5,465.4 L521.4,455.3 L522.3,458.9 L522.3,453.3 L523.2,451.9 L524.0,447.8 L524.1,458.3 L525.0,450.8 L525.9,457.3 L526.8,453.8 L527.7,463.0 L528.6,454.2 L529.5,460.4 L529.6,453.3 L530.4,454.0 L531.3,458.3 L532.2,454.0 L533.1,459.0 L533.4,452.0 L534.0,449.6 L534.2,443.2 L534.9,458.0 L535.0,452.0 L535.8,449.9 L536.7,460.3 L537.6,445.3 L537.9,441.4 L538.5,451.0 L539.4,444.6 L540.3,448.8 L541.2,444.8 L542.1,452.8 L542.5,443.2 L543.0,446.8 L543.9,451.6 L544.8,449.3 L545.7,451.6 L546.6,453.0 L547.1,453.3 L547.5,452.0 L548.4,451.6 L548.7,450.0 L549.3,451.3 L549.5,410.0 L550.2,438.2 L550.3,440.0 L551.1,444.1 L551.7,444.0 L552.0,442.7 L552.9,435.0 L553.8,432.9 L554.7,425.4 L555.4,424.0 L555.6,420.6 L556.5,417.8 L557.4,382.7 L557.5,377.6 L558.3,409.6 L559.2,386.3 L560.1,400.7 L560.7,387.3 L561.0,386.5 L561.9,400.5 L562.8,377.6 L563.7,403.5 L564.6,374.4 L565.0,361.5 L565.5,394.6 L566.4,373.7 L567.3,402.9 L568.2,375.9 L569.1,389.8 L569.3,370.0 L570.0,369.3 L570.9,384.4 L571.8,361.7 L572.5,356.2 L572.7,381.2 L573.6,362.6 L574.5,395.1 L575.4,364.1 L576.3,385.7 L576.8,355.0 L577.2,361.6 L578.1,391.7 L579.0,354.7 L579.9,388.1 L580.2,352.0 L580.8,341.1 L581.0,316.5 L581.7,389.9 L581.8,350.0 L582.6,358.4 L583.5,382.7 L583.5,350.0 L584.3,314.3 L584.4,322.0 L584.4,320.0 L584.8,440.0 L585.1,344.0 L585.2,346.0 L585.3,388.2 L586.2,348.8 L586.5,344.4 L587.1,386.9 L588.0,343.2 L588.6,321.8 L588.9,371.0 L589.8,328.3 L590.7,388.9 L591.6,332.2 L591.8,319.7 L592.5,362.0 L593.4,332.3 L594.3,364.6 L595.0,340.0 L595.2,348.0 L596.1,379.6 L596.1,326.0 L597.0,332.0 L597.9,378.6 L598.8,347.1 L599.7,373.5 L600.4,342.2 L600.6,345.3 L601.5,369.7 L602.4,337.3 L603.3,355.2 L603.4,333.7 L603.8,452.0 L603.9,330.0 L604.2,333.7 L604.2,322.1 L604.7,303.6 L605.1,366.3 L605.5,320.0 L606.0,326.5 L606.9,373.7 L607.8,321.5 L608.0,314.3 L608.7,370.1 L609.6,336.1 L610.0,330.0 L610.5,353.8 L611.4,326.3 L612.2,318.6 L612.3,351.8 L613.2,320.3 L614.1,355.6 L615.0,316.9 L615.9,347.1 L616.8,311.8 L617.6,310.0 L617.7,355.0 L618.0,414.0 L618.4,308.4 L618.6,310.7 L618.7,305.8 L619.5,341.4 L620.0,318.0 L620.4,320.7 L621.3,345.6 L622.0,305.0 L622.2,310.8 L623.1,341.0 L624.0,321.3 L624.3,320.0 L624.9,330.9 L625.8,297.3 L626.7,305.6 L626.9,269.7 L627.6,283.0 L628.5,313.0 L628.6,285.8 L629.4,280.1 L630.3,325.3 L630.7,268.7 L631.2,272.5 L632.1,313.5 L633.0,281.7 L633.9,314.3 L634.0,273.0 L634.8,277.9 L635.7,311.5 L636.6,280.7 L637.2,274.0 L637.5,316.0 L638.4,281.7 L639.1,285.5 L639.3,310.2 L639.5,374.0 L639.9,289.5 L640.2,291.3 L640.4,290.0 L641.1,302.4 L642.0,275.2 L642.5,258.0 L642.9,300.9 L643.8,263.7 L644.7,305.9 L644.7,253.6 L645.6,268.8 L646.5,296.5 L647.4,270.2 L647.9,264.4 L648.3,300.0 L649.2,285.6 L650.0,292.3 L650.1,305.5 L651.0,296.4 L651.0,296.2 L651.4,402.0 L651.8,297.8 L651.9,305.0 L652.8,299.6 L653.3,298.7 L653.7,307.4 L654.6,297.7 L655.4,292.3 L655.5,307.5 L656.4,288.4 L657.3,296.3 L658.2,269.3 L658.2,262.2 L659.1,310.2 L660.0,279.5 L660.8,275.0 L660.9,295.2 L661.8,272.9 L662.7,299.4 L663.6,265.3 L664.5,292.7 L665.0,258.0 L665.3,259.8 L665.4,259.4 L665.7,405.0 L666.1,259.3 L666.3,303.3 L667.2,267.2 L668.1,308.9 L668.3,255.8 L669.0,259.9 L669.9,303.3 L670.8,269.0 L671.5,262.2 L671.7,288.8 L672.6,267.7 L672.8,255.0 L673.5,310.3 L673.6,229.0 L674.4,253.8 L674.4,250.0 L675.3,307.6 L675.8,251.5 L676.2,256.3 L677.1,292.8 L678.0,259.4 L678.9,302.6 L679.0,240.8 L679.8,243.5 L680.7,288.3 L681.6,247.8 L682.2,238.6 L682.5,285.1 L682.9,247.4 L683.3,357.0 L683.4,253.5 L683.7,255.2 L684.3,288.7 L684.4,260.0 L685.2,263.4 L686.1,276.8 L687.0,250.6 L687.9,285.4 L688.7,230.0 L688.8,231.1 L689.7,279.7 L690.6,241.3 L691.5,285.8 L691.9,230.0 L692.4,235.4 L693.0,239.9 L693.3,301.6 L693.4,338.0 L693.8,245.6 L694.0,245.0 L694.2,255.4 L695.1,300.3 L695.8,240.0 L696.4,128.0 L704.5,128.0 L705.4,200.0 L706.0,300.0 L707.4,300.0 L708.4,232.2 L708.6,235.1 L709.5,264.6 L710.4,242.6 L710.7,242.9 L711.3,273.5 L712.2,244.4 L713.0,240.6 L713.1,260.9 L714.0,248.6 L714.9,273.0 L715.3,250.5 L715.8,254.1 L716.7,262.8 L717.6,243.9 L718.5,271.1 L719.4,241.1 L719.9,233.7 L720.3,265.9 L721.2,233.0 L722.1,251.4 L723.0,235.5 L723.7,226.8 L723.9,258.1 L724.8,237.1 L725.3,239.8 L725.7,270.9 L726.6,239.9 L727.5,271.0 L727.6,228.3 L728.4,235.8 L729.3,274.7 L730.2,248.8 L730.6,250.5 L731.1,277.2 L732.0,257.2 L732.9,273.0 L733.0,255.9 L733.8,261.4 L734.7,283.1 L735.6,263.0 L736.5,276.0 L737.4,267.7 L737.5,264.3 L738.3,280.8 L739.2,273.1 L740.1,284.5 L740.6,278.0 L741.0,275.5 L741.9,279.6 L742.8,261.8 L742.9,258.2 L743.7,273.1 L744.6,253.5 L745.5,265.8 L745.6,239.8 L746.4,246.5 L747.3,261.5 L748.2,248.7 L748.2,245.9 L749.1,256.3 L750.0,243.9 L750.5,240.6 L750.9,253.4 L751.8,250.4 L752.7,261.0 L753.6,256.3 L753.6,255.1 L754.5,262.1 L755.3,259.9 L755.4,260.2 L755.7,315.0 L756.1,261.2 L756.3,262.3 L757.2,262.5 L757.4,261.3 L758.1,263.7 L759.0,259.8 L759.9,265.4 L760.8,256.5 L761.3,253.6 L761.7,263.7 L762.6,253.7 L763.5,268.3 L764.4,248.1 L765.1,243.6 L765.3,267.4 L765.4,245.1 L765.8,328.0 L766.2,247.0 L766.2,243.7 L767.1,265.1 L768.0,242.2 L768.1,238.3 L768.9,259.6 L769.8,237.8 L770.4,236.0 L770.7,254.8 L771.6,235.4 L772.5,264.5 L773.4,234.0 L774.3,252.3 L775.0,228.3 L775.2,229.6 L776.1,264.9 L777.0,235.1 L777.9,260.5 L778.8,227.5 L779.6,223.0 L779.7,250.2 L780.6,225.9 L781.5,254.1 L782.3,220.6 L782.4,222.7 L783.3,252.4 L784.2,218.6 L785.1,264.4 L785.3,211.4 L786.0,223.5 L786.9,252.2 L787.8,212.5 L788.4,208.0 L788.7,263.2 L789.1,195.8 L789.6,195.2 L790.5,237.3 L790.7,174.3 L791.4,170.9 L792.3,234.7 L793.0,160.5 L793.2,171.4 L794.1,238.0 L794.5,149.8 L795.0,151.2 L795.9,234.4 L796.8,127.9 L797.3,122.0 L797.7,213.8 L798.5,122.0 L798.6,127.2 L799.5,227.8 L800.4,151.9 L800.6,152.9 L801.3,211.6 L802.2,164.5 L803.1,225.2 L804.0,174.8 L804.9,242.9 L805.8,181.9 L806.7,251.0 L806.8,165.1 L807.5,183.5 L807.6,198.1 L808.5,262.9 L809.4,193.9 L810.3,241.3 L811.2,207.0 L811.3,188.1 L812.1,236.6 L812.6,195.8 L813.0,223.3 L813.5,236.0 L813.9,259.9 L814.8,237.1 L815.5,236.0 L815.7,263.1 L816.0,192.7 L816.6,209.1 L817.5,255.6 L818.4,206.4 L819.0,192.7 L819.3,263.0 L819.8,209.5 L820.2,203.1 L820.5,193.0 L821.1,252.6 L822.0,209.5 L822.8,205.0 L822.9,264.3 L823.8,217.0 L824.7,264.3 L825.6,212.7 L826.5,268.5 L826.7,202.0 L827.4,214.3 L828.3,263.4 L829.2,208.5 L830.1,241.5 L830.5,205.0 L831.0,220.1 L831.5,230.0 L831.9,261.1 L832.8,231.9 L833.5,230.0 L833.7,274.0 L834.4,205.0 L834.5,200.0 L834.6,210.9 L834.8,291.0 L835.2,199.6 L835.5,267.1 L836.4,207.2 L837.3,270.7 L837.4,190.0 L838.2,197.7 L839.1,234.6 L839.7,177.4 L840.0,198.6 L840.9,275.0 L841.8,192.6 L842.7,263.9 L843.6,197.9 L844.5,239.2 L845.0,182.0 L845.4,203.8 L846.3,253.4 L846.7,197.0 L847.2,199.4 L848.1,255.4 L849.0,213.2 L849.9,253.0 L850.5,197.0 L850.8,225.4 L851.2,231.0 L851.7,286.5 L852.6,238.2 L853.0,231.0 L853.5,265.0 L854.3,171.9 L854.4,185.9 L855.3,275.3 L856.0,170.2 L856.2,194.0 L857.1,272.7 L858.0,201.8 L858.5,188.7 L858.9,247.6 L859.8,205.7 L860.7,262.8 L861.0,214.0 L861.6,228.9 L862.5,266.8 L863.4,227.8 L863.6,217.3 L864.3,257.1 L865.2,222.3 L866.1,268.4 L867.0,235.7 L867.0,224.0 L867.9,284.3 L868.8,230.0 L869.7,267.6 L870.0,212.3 L870.6,227.1 L871.5,277.4 L872.0,227.4 L872.4,237.4 L873.3,269.1 L873.7,235.9 L874.2,248.9 L875.1,272.5 L876.0,249.7 L876.9,296.2 L877.8,235.3 L877.9,234.2 L878.7,282.1 L879.6,252.6 L880.4,244.3 L880.5,297.8 L881.4,249.0 L882.3,278.2 L883.2,242.8 L883.8,238.0 L884.1,300.0 L884.6,203.9 L885.0,217.1 L885.4,220.0 L885.9,285.9 L886.3,220.7 L886.8,226.6 L887.7,285.3 L888.6,248.3 L889.5,274.2 L889.7,237.5 L890.4,253.6 L891.3,289.0 L892.2,262.2 L892.2,251.0 L893.1,295.1 L894.0,244.3 L894.7,235.9 L894.9,302.0 L895.0,239.4 L895.4,368.0 L895.8,249.4 L895.8,243.5 L896.7,276.5 L897.6,251.5 L898.0,252.7 L898.5,291.9 L899.4,255.0 L900.3,285.7 L900.6,244.3 L901.2,250.2 L902.1,289.4 L903.0,261.6 L903.1,257.7 L903.9,303.9 L904.8,254.0 L905.7,302.2 L906.0,250.0 L906.6,256.7 L907.5,277.6 L908.2,224.0 L908.4,244.1 L909.3,302.6 L909.9,225.8 L910.2,246.0 L911.1,286.1 L912.0,241.3 L912.9,293.3 L913.8,258.5 L914.1,240.9 L914.7,303.3 L915.6,250.4 L916.5,299.0 L917.4,251.7 L918.3,286.7 L918.3,247.6 L919.2,254.3 L920.1,317.2 L920.8,259.4 L921.0,265.5 L921.9,321.0 L922.5,270.3 L922.8,275.0 L923.7,305.3 L924.6,283.5 L925.5,306.2 L926.4,287.7 L927.3,323.6 L927.5,287.1 L928.2,291.9 L929.1,321.9 L930.0,279.5 L930.9,326.2 L931.8,274.6 L931.8,258.5 L932.7,315.0 L933.6,275.8 L934.5,301.0 L935.1,268.6 L935.4,280.4 L936.3,316.3 L937.2,283.1 L937.6,272.0 L938.1,324.5 L939.0,282.2 L939.9,310.3 L940.8,296.6 L941.0,285.5 L941.7,316.2 L942.6,296.9 L943.5,324.6 L944.4,300.9 L944.4,297.2 L945.3,335.6 L946.0,300.6" fill="none" stroke="#4884d6" stroke-width="2.1" stroke-linejoin="round"/>
<rect x="705.6" y="234" width="1.3" height="56" fill="#fff" opacity="0.85"/>
<rect x="416" y="544.3" width="464.5" height="2" fill="#8296e6"/><rect x="416" y="546.2" width="464.5" height="3.5" fill="#5aaed4"/><rect x="416" y="549.7" width="464.5" height="1" fill="#c47aa8"/>
<rect x="882" y="530" width="64" height="20.5" fill="#8cd0ff" opacity="0.3"/>
<line x1="16" y1="551.3" x2="881.5" y2="551.3" stroke="#982c50" stroke-width="1.4"/>
<polyline points="880.7,551.2 880.7,483.6 881.6,490.0 883.0,535.0 884.3,501.9 885.7,535.8 887.0,503.6 888.4,534.7 889.7,486.9 891.1,535.4 892.4,492.0 892.5,520.0 893.5,448.0 893.8,532.9 894.2,448.0 895.1,488.8 895.3,530.0 896.5,537.3 897.8,486.3 899.2,532.7 900.5,492.7 901.9,539.6 903.2,507.0 904.2,520.0 904.6,531.3 905.2,303.0 905.9,506.5 906.0,303.0 907.0,530.0 907.3,534.5 908.6,493.4 910.0,539.9 911.3,487.2 912.7,539.5 914.0,479.4 915.4,537.8 915.4,520.0 916.4,437.0 916.7,474.4 917.1,437.0 918.1,535.8 918.2,530.0 919.4,479.9 920.8,532.4 922.1,496.4 923.5,534.2 924.8,513.9 926.2,534.0 927.5,516.3 928.9,537.5 930.2,520.0 930.2,517.8 931.2,288.0 931.6,531.0 932.0,288.0 932.9,527.2 933.0,530.0 934.3,533.6 935.6,527.6 937.0,537.9 938.3,521.0 939.7,539.4 941.0,506.9 942.4,536.4 943.7,501.0 945.1,536.5" fill="none" stroke="#f0360a" stroke-width="2.2" stroke-linejoin="round"/>
<g stroke="#ccd6eb"><line x1="37.4" y1="551" x2="37.4" y2="562" stroke="#c8c8d0"/><line x1="130.5" y1="551" x2="130.5" y2="562" stroke="#c8c8d0"/><line x1="223.7" y1="551" x2="223.7" y2="562" stroke="#c8c8d0"/><line x1="316.8" y1="551" x2="316.8" y2="562" stroke="#c8c8d0"/><line x1="410.0" y1="551" x2="410.0" y2="562" stroke="#c8c8d0"/><line x1="503.1" y1="551" x2="503.1" y2="562" stroke="#c8c8d0"/><line x1="596.2" y1="551" x2="596.2" y2="562" stroke="#c8c8d0"/><line x1="689.4" y1="551" x2="689.4" y2="562" stroke="#c8c8d0"/><line x1="782.5" y1="551" x2="782.5" y2="562" stroke="#c8c8d0"/><line x1="875.7" y1="551" x2="875.7" y2="562" stroke="#c8c8d0"/></g>
<g font-size="11" fill="#606060" letter-spacing="0.3"><text x="37.4" y="571" text-anchor="middle">2008</text><text x="130.5" y="571" text-anchor="middle">2009</text><text x="223.7" y="571" text-anchor="middle">2010</text><text x="316.8" y="571" text-anchor="middle">2011</text><text x="410.0" y="571" text-anchor="middle">2012</text><text x="503.1" y="571" text-anchor="middle">2013</text><text x="596.2" y="571" text-anchor="middle">2014</text><text x="689.4" y="571" text-anchor="middle">2015</text><text x="782.5" y="571" text-anchor="middle">2016</text><text x="875.7" y="571" text-anchor="middle">2017</text></g>
<g>
<rect x="610.5" y="327.8" width="19.6" height="17.9" fill="#fff" stroke="#aaa" stroke-width="0.8"/>
<text x="619.3" y="341" font-size="11" text-anchor="middle" fill="#000" font-weight="bold">A</text>
<rect x="853" y="239.7" width="21" height="18.4" fill="#fff" stroke="#aaa" stroke-width="0.8"/>
<text x="863.5" y="253" font-size="11" text-anchor="middle" fill="#000" font-weight="bold">B</text>
</g>
<rect x="15" y="598" width="931" height="40" fill="#cdd5ea"/>
<line x1="15" y1="598.5" x2="946" y2="598.5" stroke="#bcc2d0" stroke-width="1"/>
<line x1="15" y1="634.5" x2="946" y2="634.5" stroke="#c0c6d8" stroke-width="1"/>
<g stroke="#c4cadb" stroke-width="1">
<line x1="34.5" y1="598" x2="34.5" y2="638"/><line x1="221.5" y1="598" x2="221.5" y2="638"/><line x1="408.5" y1="598" x2="408.5" y2="638"/><line x1="595.5" y1="598" x2="595.5" y2="638"/><line x1="782.5" y1="598" x2="782.5" y2="638"/>
</g>
<g font-size="11" fill="#999">
<text x="40" y="634">2008</text><text x="227" y="634">2010</text><text x="413" y="634">2012</text><text x="600" y="634">2014</text><text x="786" y="634">2016</text>
</g>
<polyline points="384.3,634.5 386.5,634.4 388.8,634.3 391.0,634.2 393.3,634.1 395.5,634.0 397.8,633.9 400.0,633.8 402.3,633.7 404.5,633.6 406.8,633.5 409.0,633.4 411.3,633.4 413.6,633.3 415.9,633.3 418.2,633.2 420.5,633.2 422.8,633.2 425.1,633.1 427.4,633.1 429.6,633.0 431.9,633.0 434.2,632.9 436.5,632.9 438.8,632.9 441.1,632.8 443.4,632.8 445.7,632.7 448.0,632.7 450.2,632.6 452.4,632.4 454.6,632.3 456.9,632.2 459.1,632.0 461.3,631.9 463.5,631.8 465.7,631.6 467.9,631.5 470.1,631.3 472.4,631.2 474.6,631.1 476.8,630.9 479.0,630.8 481.3,630.5 483.5,630.3 485.8,630.0 488.0,629.7 490.3,629.4 492.6,629.2 494.8,628.9 497.1,628.6 499.3,628.3 501.6,628.1 503.9,627.8 506.1,627.5 508.4,627.2 510.6,627.0 512.9,626.7 515.1,626.6 517.4,626.5 519.6,626.3 521.9,626.2 524.1,626.1 526.4,626.0 528.6,625.9 530.9,625.7 533.1,625.6 535.4,625.5 537.6,625.4 539.9,625.3 542.1,625.1 544.4,625.0 546.6,624.9 549.2,623.8 551.8,622.7 554.4,621.6 557.0,620.5 559.3,620.3 561.6,620.3 563.9,620.2 566.2,620.1 568.6,620.1 570.9,619.5 573.2,619.6 575.5,617.8 577.8,618.4 580.1,618.2 582.4,618.9 584.7,618.2 587.0,618.5 589.4,616.9 591.7,617.4 594.0,616.9 596.3,617.2 598.6,617.0 601.2,616.4 603.7,615.6 607.5,617.1 609.7,615.7 612.0,615.6 614.2,615.3 616.5,615.9 618.7,614.7 621.3,614.4 623.9,612.6 626.6,613.0 629.2,611.0 631.8,610.9 634.0,610.9 636.2,609.8 638.4,609.4 640.6,610.7 642.8,609.3 645.0,609.6 647.8,611.3 650.6,614.1 654.3,612.8 656.6,613.7 659.0,613.5 661.4,612.4 663.7,612.8 667.4,610.4 670.0,611.2 672.6,610.3 675.3,610.5 677.9,609.5 680.5,610.0 683.0,611.1 685.5,610.9 688.0,610.9 690.8,610.8 693.6,609.0 696.4,607.2 698.3,611.9 701.1,602.5 704.9,616.5 707.7,608.1 711.0,609.3 714.2,609.0 716.7,608.2 719.2,607.9 721.7,607.7 724.5,606.8 727.3,607.2 729.6,607.2 731.8,607.7 734.1,608.8 736.3,609.9 738.6,610.4 741.4,608.6 744.2,608.5 747.0,608.8 749.8,608.5 752.6,609.2 755.4,610.4 757.8,610.1 760.1,611.0 762.4,610.4 764.8,610.4 767.4,609.7 770.0,609.6 772.7,609.6 775.3,608.1 777.9,608.5 780.5,608.4 783.1,606.6 785.9,605.1 788.7,605.3 792.0,603.9 795.3,601.6 797.6,603.8 800.0,604.7 802.5,604.0 805.0,605.6 807.5,605.3 810.3,606.3 813.1,607.7 815.5,606.3 817.8,604.7 820.6,604.3 823.4,604.9 826.2,606.2 829.0,606.4 831.8,607.7 834.1,608.7 836.5,608.1 840.2,604.7 842.5,604.5 844.9,605.3 847.4,606.6 849.9,607.7 852.4,607.7 855.2,605.9 857.5,607.3 859.9,607.2 862.4,607.2 864.9,607.5 867.4,608.1 869.9,608.6 872.4,609.6 874.9,609.6 877.7,607.9 880.5,608.0 883.3,606.6 886.1,609.0 888.3,610.0 890.6,610.6 892.8,609.7 895.1,611.8 897.3,611.5 899.8,610.6 902.3,610.8 904.8,610.9 908.6,608.1 911.4,608.7 914.2,609.0 917.0,610.7 919.8,610.9 922.3,611.2 924.8,612.9 927.3,612.8 929.8,612.1 932.3,610.9 934.8,610.4 937.6,611.3 940.4,612.8 942.7,612.8 945.0,614.0" fill="none" stroke="#4463a8" stroke-width="1.4" stroke-linejoin="round"/>
<g fill="#fff" stroke="#666" stroke-width="1">
<rect x="11.5" y="610.5" width="8" height="15"/><rect x="941.5" y="610.5" width="8" height="15"/>
</g>
<g stroke="#666" stroke-width="1">
<line x1="14.5" y1="614" x2="14.5" y2="622"/><line x1="16.5" y1="614" x2="16.5" y2="622"/>
<line x1="944.5" y1="614" x2="944.5" y2="622"/><line x1="946.5" y1="614" x2="946.5" y2="622"/>
</g>
<line x1="10" y1="648.5" x2="952" y2="648.5" stroke="#e6e6e6" stroke-width="1"/>
</svg>
</body></html>
